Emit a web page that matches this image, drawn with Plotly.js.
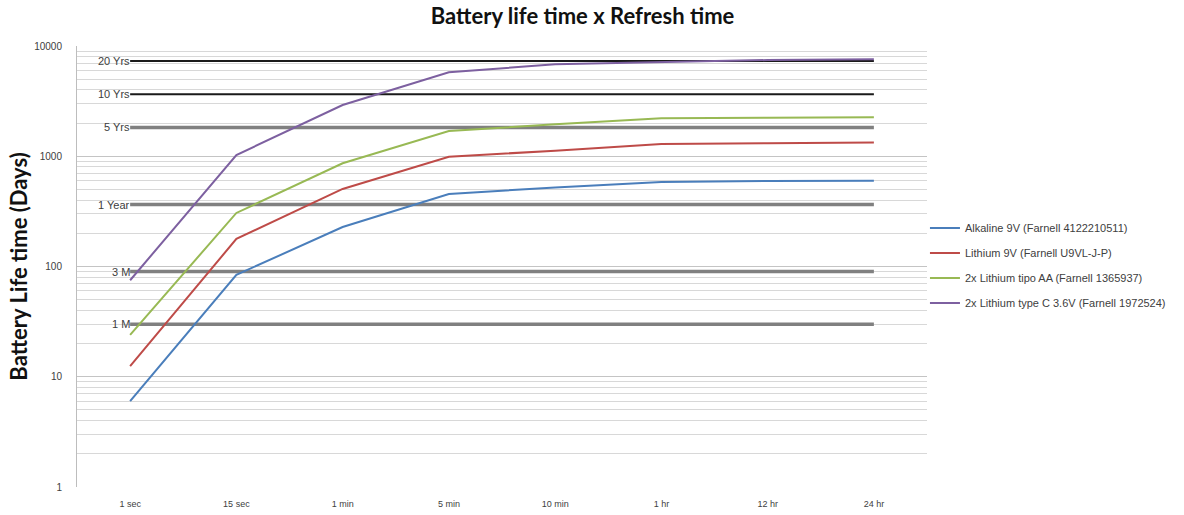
<!DOCTYPE html>
<html>
<head>
<meta charset="utf-8">
<script src="https://cdn.plot.ly/plotly-3.0.1.min.js"></script>
<style>html,body{margin:0;padding:0;background:#fff;}#chart{width:1184px;height:515px;}</style>
</head>
<body>
<div id="chart"></div>
<script>
// ---- data ----
const refreshTimes = ['1 sec', '15 sec', '1 min', '5 min', '10 min', '1 hr', '12 hr', '24 hr'];

const seriesNames = [
  'Alkaline 9V (Farnell 4122210511)',
  'Lithium 9V (Farnell U9VL-J-P)',
  '2x Lithium tipo AA (Farnell 1365937)',
  '2x Lithium type C 3.6V (Farnell 1972524)'
];
const alkaline9V   = [6, 84, 228, 455, 521, 584, 596, 600];
const lithium9V    = [12.5, 178, 505, 991, 1122, 1291, 1310, 1330];
const lithiumAA    = [24, 306, 863, 1694, 1950, 2207, 2240, 2256];
const lithiumC     = [75, 1026, 2916, 5771, 6825, 7160, 7460, 7570];
const seriesValues = [alkaline9V, lithium9V, lithiumAA, lithiumC];
const seriesColors = ['#4a7ebb', '#be4b48', '#98b954', '#7d60a0'];

const refLabels = ['20 Yrs', '10 Yrs', '5 Yrs', '1 Year', '3 M', '1 M'];
const refDays   = [7300, 3650, 1825, 365, 90, 30];
const refColors = ['#1a1a1a', '#1a1a1a', '#808080', '#808080', '#808080', '#808080'];
const refWidths = [2, 2, 3.5, 3.5, 3.5, 3.5];

const yTickVals = [1, 10, 100, 1000, 10000];
const yTickText = ['1', '10', '100', '1000', '10000'];

// ---- traces ----
const traces = [];
refDays.forEach((d, i) => {
  traces.push({
    x: refreshTimes,
    y: refreshTimes.map(() => d),
    type: 'scatter', mode: 'lines',
    line: {color: refColors[i], width: refWidths[i]},
    showlegend: false, hoverinfo: 'skip'
  });
});
seriesValues.forEach((vals, i) => {
  traces.push({
    x: refreshTimes, y: vals,
    name: seriesNames[i],
    legendgroup: 'g' + i,
    type: 'scatter', mode: 'lines',
    line: {color: seriesColors[i], width: 2}
  });
});

const annotations = refLabels.map((t, i) => ({
  x: refreshTimes[0], y: Math.log10(refDays[i]),
  xref: 'x', yref: 'y', text: t, showarrow: false,
  xanchor: 'right', yanchor: 'middle', xshift: 2,
  font: {family: 'Liberation Sans, Arial, sans-serif', size: 11, color: '#404040'}
}));

const layout = {
  width: 1184, height: 515,
  margin: {l: 77, r: 257, t: 46, b: 28},
  paper_bgcolor: '#fff', plot_bgcolor: '#fff',
  font: {family: 'Liberation Sans, Arial, sans-serif', color: '#404040'},
  title: {
    text: 'Battery life time x Refresh time',
    xref: 'container', x: 0.492, yref: 'container', y: 0.968, yanchor: 'middle',
    font: {family: 'Lato, sans-serif', size: 22, color: '#111', weight: 'bold'}
  },
  xaxis: {
    type: 'category', range: [-0.5, 7.5],
    showgrid: false, zeroline: false, showline: false,
    ticks: '', ticklabelstandoff: 10, tickfont: {size: 9, color: '#404040'}
  },
  yaxis: {
    type: 'log', range: [0, 4],
    tickvals: yTickVals, ticktext: yTickText,
    showgrid: true, gridcolor: '#c4c4c4', gridwidth: 1,
    minor: {dtick: 'D1', showgrid: true, gridcolor: '#d8d8d8', gridwidth: 1, ticks: ''},
    showline: true, linecolor: '#bdbdbd', linewidth: 1,
    ticks: '', ticklabelstandoff: 12, tickfont: {size: 10, color: '#404040'},
    title: {text: 'Battery Life time (Days)', standoff: 0,
            font: {family: 'Lato, sans-serif', size: 22, color: '#111', weight: 'bold'}}
  },
  legend: {
    x: 0.9976, xanchor: 'left', y: 0.62, yanchor: 'top',
    font: {size: 11, color: '#404040'},
    tracegroupgap: 6, bgcolor: 'rgba(0,0,0,0)'
  },
  annotations: annotations
};

Plotly.newPlot('chart', traces, layout, {displayModeBar: false, staticPlot: true});
</script>
</body>
</html>
